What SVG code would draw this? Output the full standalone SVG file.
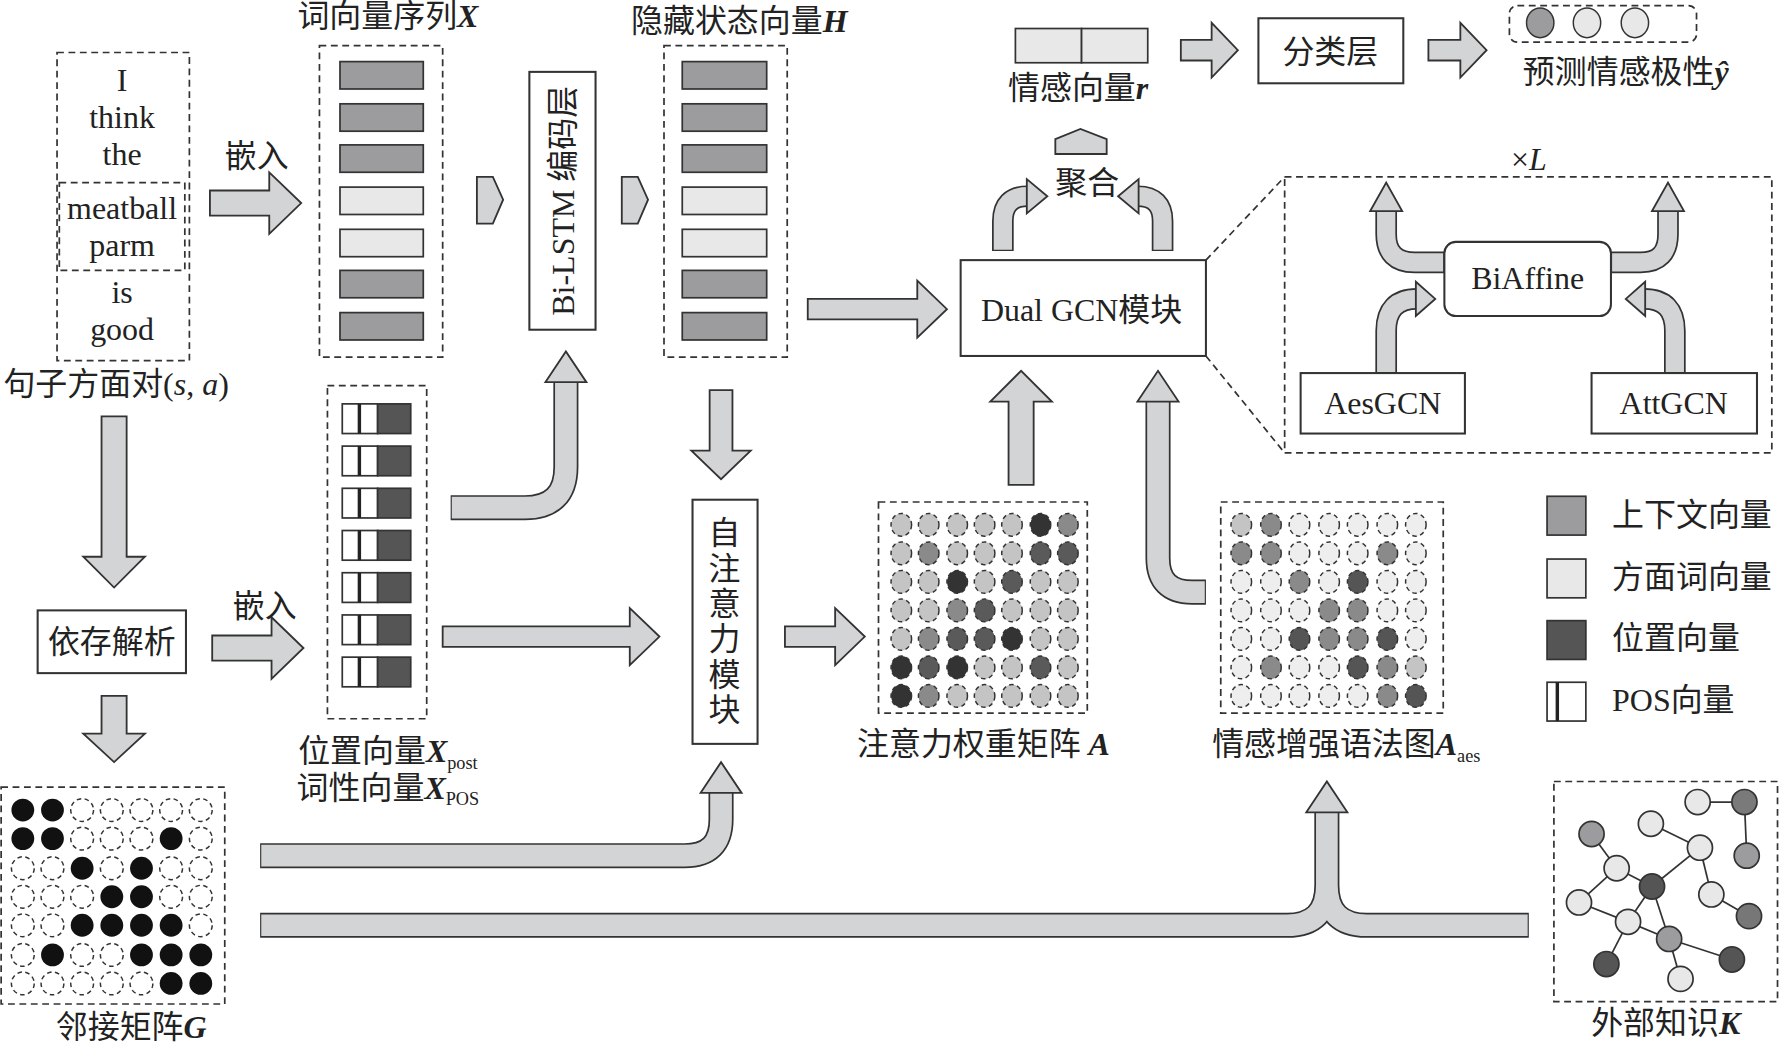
<svg xmlns="http://www.w3.org/2000/svg" width="1789" height="1043" viewBox="0 0 1789 1043">
<style>
text{font-family:"Liberation Serif","Noto Sans CJK SC",serif;font-size:28px;fill:#222}
.c{text-anchor:middle}
.b{font-weight:bold;font-style:italic}
.i{font-style:italic}
.dash{fill:none;stroke:#333;stroke-width:1.5;stroke-dasharray:6 4}
.box{fill:#fff;stroke:#333;stroke-width:1.8}
.ar{fill:#d2d4d5;stroke:#333;stroke-width:1.6;stroke-linejoin:miter}
.so{fill:none;stroke:#333}
.si{fill:none;stroke:#d2d4d5}
.vc{fill:#9c9c9e;stroke:#333;stroke-width:1.5}
.va{fill:#e8e8e8;stroke:#333;stroke-width:1.5}
.dot{stroke:#333;stroke-width:1.3;stroke-dasharray:4 3}
.ln{stroke:#333;stroke-width:1.5}
</style>
<defs>
<g id="posrow"><rect x="300" y="0" width="31" height="26" fill="#fff" stroke="#333" stroke-width="1.5"/><line x1="315" y1="0" x2="315" y2="26" stroke="#222" stroke-width="3"/><rect x="331" y="0" width="29" height="26" fill="#555" stroke="#333" stroke-width="1.5"/></g>
</defs>
<rect width="1789" height="1043" fill="#fff"/>
<g transform="scale(1.1409)">
<g id="connectors">
<path class="ar" d="M184,167H236V151L264,178L236,205V189H184Z"/>
<path class="ar" d="M186,557H238V541L266,568L238,595V579H186Z"/>
<path class="ar" d="M708,262H804V246L830,271L804,296V280H708Z"/>
<path class="ar" d="M388,549H552V533L578,558L552,583V567H388Z"/>
<path class="ar" d="M688,549H732V533L758,558L732,583V567H688Z"/>
<path class="ar" d="M1035,35H1062V20L1085,44L1062,68V53H1035Z"/>
<path class="ar" d="M1252,35H1280V20L1303,44L1280,68V53H1252Z"/>
<path class="ar" d="M89,365V488H73L100,515L127,488H111V365Z"/>
<path class="ar" d="M89,610V643H73L100,668L127,643H111V610Z"/>
<path class="ar" d="M622,342V395H606L632,420L658,395H642V342Z"/>
<path class="ar" d="M884,425V352H868L895,325L922,352H906V425Z"/>
<path class="ar" d="M418,155H432L441,175L432,196H418Z"/>
<path class="ar" d="M545,155H559L568,175L559,196H545Z"/>
<path class="ar" d="M925,135V122L947,113L970,122V135Z"/>
<g stroke-width="22"><path class="so" d="M395,445H460Q496,445 496,409V334"/><path class="so" d="M228,750H600Q632,750 632,718V694"/><path class="so" d="M228,811H1128Q1163,811 1163,776V711M1340,811H1198Q1163,811 1163,776"/><path class="so" d="M1057,519H1045Q1015,519 1015,489V351"/></g>
<g stroke-width="19"><path class="si" d="M396,445H460Q496,445 496,409V334"/><path class="si" d="M229,750H600Q632,750 632,718V694"/><path class="si" d="M229,811H1128Q1163,811 1163,776V711M1339,811H1198Q1163,811 1163,776"/><path class="si" d="M1056,519H1045Q1015,519 1015,489V351"/></g>
<path class="ar" d="M478,335L496,308L514,335Z"/>
<path class="ar" d="M614,695L632,668L650,695Z"/>
<path class="ar" d="M1145,712L1163,685L1181,712Z"/>
<path class="ar" d="M997,352L1015,325L1033,352Z"/>
<g stroke-width="19"><path class="so" d="M879,220V194Q879,172 901,172"/><path class="so" d="M1019,220V194Q1019,172 997,172"/><path class="so" d="M1215,327V290Q1215,262 1242,262"/><path class="so" d="M1468,327V290Q1468,262 1441,262"/><path class="so" d="M1266,230H1240Q1215,230 1215,205V184"/><path class="so" d="M1412,230H1438Q1462,230 1462,205V184"/></g>
<g stroke-width="16"><path class="si" d="M879,219V194Q879,172 901,172"/><path class="si" d="M1019,219V194Q1019,172 997,172"/><path class="si" d="M1215,326V290Q1215,262 1242,262"/><path class="si" d="M1468,326V290Q1468,262 1441,262"/><path class="si" d="M1265,230H1240Q1215,230 1215,205V184"/><path class="si" d="M1413,230H1438Q1462,230 1462,205V184"/></g>
<path class="ar" d="M900,157L918,172L900,187Z"/>
<path class="ar" d="M998,157L980,172L998,187Z"/>
<path class="ar" d="M1241,247L1258,262L1241,277Z"/>
<path class="ar" d="M1442,247L1425,262L1442,277Z"/>
<path class="ar" d="M1201,185L1215,160L1229,185Z"/>
<path class="ar" d="M1448,185L1462,160L1476,185Z"/>
<path class="dash" d="M1057,228L1126,155M1057,312L1126,397"/>
</g>
<g id="sentence">
<rect class="dash" x="50" y="46" width="116" height="270"/>
<rect class="dash" x="52" y="160" width="110" height="77"/>
<text class="c" x="107" y="80">I</text><text class="c" x="107" y="112">think</text><text class="c" x="107" y="145">the</text>
<text class="c" x="107" y="192">meatball</text><text class="c" x="107" y="224">parm</text><text class="c" x="107" y="266">is</text><text class="c" x="107" y="298">good</text>
<text x="3" y="346">句子方面对(<tspan class="i">s</tspan>, <tspan class="i">a</tspan>)</text>
<text class="c" x="225" y="146">嵌入</text>
</g>
<g id="wordvec">
<text class="c" x="340" y="24">词向量序列<tspan class="b">X</tspan></text>
<rect class="dash" x="280" y="40" width="108" height="273"/>
<rect class="vc" x="298" y="54" width="73" height="24"/><rect class="vc" x="298" y="91" width="73" height="24"/><rect class="vc" x="298" y="127" width="73" height="24"/><rect class="va" x="298" y="164" width="73" height="24"/><rect class="va" x="298" y="201" width="73" height="24"/><rect class="vc" x="298" y="237" width="73" height="24"/><rect class="vc" x="298" y="274" width="73" height="24"/>
</g>
<g id="bilstm"><rect class="box" x="464" y="63" width="58" height="226"/><text class="c" transform="translate(503,176) rotate(-90)" font-size="27">Bi-LSTM 编码层</text></g>
<g id="hidden">
<text class="c" x="648" y="28">隐藏状态向量<tspan class="b">H</tspan></text>
<rect class="dash" x="582" y="40" width="108" height="273"/>
<rect class="vc" x="598" y="54" width="74" height="24"/><rect class="vc" x="598" y="91" width="74" height="24"/><rect class="vc" x="598" y="127" width="74" height="24"/><rect class="va" x="598" y="164" width="74" height="24"/><rect class="va" x="598" y="201" width="74" height="24"/><rect class="vc" x="598" y="237" width="74" height="24"/><rect class="vc" x="598" y="274" width="74" height="24"/>
</g>
<g id="dualgcn"><rect class="box" x="842" y="228" width="215" height="84"/><text class="c" x="948" y="281">Dual GCN模块</text><text class="c" x="953" y="170">聚合</text></g>
<g id="sentvec"><rect class="va" x="890" y="25" width="58" height="30"/><rect class="va" x="948" y="25" width="58" height="30"/><text class="c" x="945" y="87">情感向量<tspan class="b">r</tspan></text></g>
<g id="classify"><rect class="box" x="1103" y="16" width="127" height="57"/><text class="c" x="1166" y="55">分类层</text></g>
<g id="predict"><rect class="dash" x="1323" y="5" width="164" height="32" rx="7"/>
<ellipse cx="1350" cy="20" rx="12" ry="13" fill="#9c9c9e" stroke="#333" stroke-width="1.3"/><ellipse cx="1391" cy="20" rx="12" ry="13" fill="#e8e8e8" stroke="#333" stroke-width="1.3"/><ellipse cx="1433" cy="20" rx="12" ry="13" fill="#e8e8e8" stroke="#333" stroke-width="1.3"/>
<text class="c" x="1425" y="73">预测情感极性<tspan class="b">ŷ</tspan></text></g>
<g id="layer"><text class="c" x="1340" y="149"><tspan>×</tspan><tspan class="i">L</tspan></text><rect class="dash" x="1126" y="155" width="427" height="242"/></g>
<g id="biaffine"><rect class="box" x="1266" y="212" width="146" height="65" rx="10"/><text class="c" x="1339" y="253">BiAffine</text></g>
<g id="aesgcn"><rect class="box" x="1140" y="327" width="144" height="53"/><text class="c" x="1212" y="363">AesGCN</text></g>
<g id="attgcn"><rect class="box" x="1395" y="327" width="145" height="53"/><text class="c" x="1467" y="363">AttGCN</text></g>
<g id="posvec">
<rect class="dash" x="287" y="338" width="87" height="292"/>
<use href="#posrow" y="354"/><use href="#posrow" y="391"/><use href="#posrow" y="428"/><use href="#posrow" y="465"/><use href="#posrow" y="502"/><use href="#posrow" y="539"/><use href="#posrow" y="576"/>
<text class="c" x="340" y="668">位置向量<tspan class="b">X</tspan><tspan font-size="16" dy="6">post</tspan></text>
<text class="c" x="340" y="700">词性向量<tspan class="b">X</tspan><tspan font-size="16" dy="6">POS</tspan></text>
</g>
<g id="selfattn"><rect class="box" x="607" y="438" width="57" height="214"/>
<text class="c" x="635" y="477">自</text><text class="c" x="635" y="508">注</text><text class="c" x="635" y="539">意</text><text class="c" x="635" y="570">力</text><text class="c" x="635" y="601">模</text><text class="c" x="635" y="632">块</text></g>
<g id="depparse"><rect class="box" x="33" y="535" width="130" height="55"/><text class="c" x="98" y="572">依存解析</text><text class="c" x="232" y="541">嵌入</text></g>
<g id="attmatrix">
<rect class="dash" x="770" y="440" width="183" height="185"/>
<g class="dot">
<g fill="#c4c4c4"><ellipse cx="790" cy="460" rx="9" ry="10"/><ellipse cx="814" cy="460" rx="9" ry="10"/><ellipse cx="839" cy="460" rx="9" ry="10"/><ellipse cx="863" cy="460" rx="9" ry="10"/><ellipse cx="887" cy="460" rx="9" ry="10"/><ellipse cx="790" cy="485" rx="9" ry="10"/><ellipse cx="839" cy="485" rx="9" ry="10"/><ellipse cx="863" cy="485" rx="9" ry="10"/><ellipse cx="887" cy="485" rx="9" ry="10"/><ellipse cx="790" cy="510" rx="9" ry="10"/><ellipse cx="814" cy="510" rx="9" ry="10"/><ellipse cx="863" cy="510" rx="9" ry="10"/><ellipse cx="912" cy="510" rx="9" ry="10"/><ellipse cx="936" cy="510" rx="9" ry="10"/><ellipse cx="790" cy="535" rx="9" ry="10"/><ellipse cx="814" cy="535" rx="9" ry="10"/><ellipse cx="887" cy="535" rx="9" ry="10"/><ellipse cx="912" cy="535" rx="9" ry="10"/><ellipse cx="936" cy="535" rx="9" ry="10"/><ellipse cx="790" cy="560" rx="9" ry="10"/><ellipse cx="912" cy="560" rx="9" ry="10"/><ellipse cx="936" cy="560" rx="9" ry="10"/><ellipse cx="863" cy="585" rx="9" ry="10"/><ellipse cx="887" cy="585" rx="9" ry="10"/><ellipse cx="936" cy="585" rx="9" ry="10"/><ellipse cx="839" cy="610" rx="9" ry="10"/><ellipse cx="863" cy="610" rx="9" ry="10"/><ellipse cx="887" cy="610" rx="9" ry="10"/><ellipse cx="912" cy="610" rx="9" ry="10"/><ellipse cx="936" cy="610" rx="9" ry="10"/></g>
<g fill="#8a8a8a"><ellipse cx="936" cy="460" rx="9" ry="10"/><ellipse cx="814" cy="485" rx="9" ry="10"/><ellipse cx="839" cy="535" rx="9" ry="10"/><ellipse cx="814" cy="560" rx="9" ry="10"/><ellipse cx="814" cy="610" rx="9" ry="10"/></g>
<g fill="#5a5a5a"><ellipse cx="912" cy="485" rx="9" ry="10"/><ellipse cx="936" cy="485" rx="9" ry="10"/><ellipse cx="887" cy="510" rx="9" ry="10"/><ellipse cx="863" cy="535" rx="9" ry="10"/><ellipse cx="839" cy="560" rx="9" ry="10"/><ellipse cx="863" cy="560" rx="9" ry="10"/><ellipse cx="814" cy="585" rx="9" ry="10"/><ellipse cx="912" cy="585" rx="9" ry="10"/></g>
<g fill="#333"><ellipse cx="912" cy="460" rx="9" ry="10"/><ellipse cx="839" cy="510" rx="9" ry="10"/><ellipse cx="887" cy="560" rx="9" ry="10"/><ellipse cx="790" cy="585" rx="9" ry="10"/><ellipse cx="839" cy="585" rx="9" ry="10"/><ellipse cx="790" cy="610" rx="9" ry="10"/></g>
</g>
<text class="c" x="862" y="662">注意力权重矩阵 <tspan class="b">A</tspan></text>
</g>
<g id="aesmatrix">
<rect class="dash" x="1070" y="440" width="195" height="185"/>
<g class="dot">
<g fill="#eeeeee"><ellipse cx="1139" cy="460" rx="9" ry="10"/><ellipse cx="1165" cy="460" rx="9" ry="10"/><ellipse cx="1190" cy="460" rx="9" ry="10"/><ellipse cx="1216" cy="460" rx="9" ry="10"/><ellipse cx="1241" cy="460" rx="9" ry="10"/><ellipse cx="1139" cy="485" rx="9" ry="10"/><ellipse cx="1165" cy="485" rx="9" ry="10"/><ellipse cx="1190" cy="485" rx="9" ry="10"/><ellipse cx="1241" cy="485" rx="9" ry="10"/><ellipse cx="1088" cy="510" rx="9" ry="10"/><ellipse cx="1114" cy="510" rx="9" ry="10"/><ellipse cx="1165" cy="510" rx="9" ry="10"/><ellipse cx="1216" cy="510" rx="9" ry="10"/><ellipse cx="1241" cy="510" rx="9" ry="10"/><ellipse cx="1088" cy="535" rx="9" ry="10"/><ellipse cx="1114" cy="535" rx="9" ry="10"/><ellipse cx="1139" cy="535" rx="9" ry="10"/><ellipse cx="1216" cy="535" rx="9" ry="10"/><ellipse cx="1241" cy="535" rx="9" ry="10"/><ellipse cx="1088" cy="560" rx="9" ry="10"/><ellipse cx="1114" cy="560" rx="9" ry="10"/><ellipse cx="1241" cy="560" rx="9" ry="10"/><ellipse cx="1088" cy="585" rx="9" ry="10"/><ellipse cx="1139" cy="585" rx="9" ry="10"/><ellipse cx="1165" cy="585" rx="9" ry="10"/><ellipse cx="1088" cy="610" rx="9" ry="10"/><ellipse cx="1114" cy="610" rx="9" ry="10"/><ellipse cx="1139" cy="610" rx="9" ry="10"/><ellipse cx="1165" cy="610" rx="9" ry="10"/><ellipse cx="1190" cy="610" rx="9" ry="10"/></g>
<g fill="#c4c4c4"><ellipse cx="1088" cy="460" rx="9" ry="10"/><ellipse cx="1241" cy="585" rx="9" ry="10"/></g>
<g fill="#8a8a8a"><ellipse cx="1114" cy="460" rx="9" ry="10"/><ellipse cx="1088" cy="485" rx="9" ry="10"/><ellipse cx="1114" cy="485" rx="9" ry="10"/><ellipse cx="1216" cy="485" rx="9" ry="10"/><ellipse cx="1139" cy="510" rx="9" ry="10"/><ellipse cx="1165" cy="535" rx="9" ry="10"/><ellipse cx="1190" cy="535" rx="9" ry="10"/><ellipse cx="1165" cy="560" rx="9" ry="10"/><ellipse cx="1190" cy="560" rx="9" ry="10"/><ellipse cx="1114" cy="585" rx="9" ry="10"/><ellipse cx="1216" cy="585" rx="9" ry="10"/><ellipse cx="1216" cy="610" rx="9" ry="10"/></g>
<g fill="#555"><ellipse cx="1190" cy="510" rx="9" ry="10"/><ellipse cx="1139" cy="560" rx="9" ry="10"/><ellipse cx="1216" cy="560" rx="9" ry="10"/><ellipse cx="1190" cy="585" rx="9" ry="10"/><ellipse cx="1241" cy="610" rx="9" ry="10"/></g>
</g>
<text class="c" x="1180" y="662">情感增强语法图<tspan class="b">A</tspan><tspan font-size="16" dy="6">aes</tspan></text>
</g>
<g id="adjmatrix">
<rect class="dash" x="1" y="690" width="196" height="190"/>
<g class="dot" fill="#fff">
<circle cx="72" cy="710" r="10"/><circle cx="98" cy="710" r="10"/><circle cx="124" cy="710" r="10"/><circle cx="150" cy="710" r="10"/><circle cx="176" cy="710" r="10"/>
<circle cx="72" cy="735" r="10"/><circle cx="98" cy="735" r="10"/><circle cx="124" cy="735" r="10"/><circle cx="176" cy="735" r="10"/>
<circle cx="20" cy="761" r="10"/><circle cx="46" cy="761" r="10"/><circle cx="98" cy="761" r="10"/><circle cx="150" cy="761" r="10"/><circle cx="176" cy="761" r="10"/>
<circle cx="20" cy="786" r="10"/><circle cx="46" cy="786" r="10"/><circle cx="72" cy="786" r="10"/><circle cx="150" cy="786" r="10"/><circle cx="176" cy="786" r="10"/>
<circle cx="20" cy="811" r="10"/><circle cx="46" cy="811" r="10"/><circle cx="176" cy="811" r="10"/>
<circle cx="20" cy="837" r="10"/><circle cx="72" cy="837" r="10"/><circle cx="98" cy="837" r="10"/>
<circle cx="20" cy="862" r="10"/><circle cx="46" cy="862" r="10"/><circle cx="72" cy="862" r="10"/><circle cx="98" cy="862" r="10"/><circle cx="124" cy="862" r="10"/>
</g>
<g fill="#111">
<circle cx="20" cy="710" r="10"/><circle cx="46" cy="710" r="10"/><circle cx="20" cy="735" r="10"/><circle cx="46" cy="735" r="10"/><circle cx="150" cy="735" r="10"/>
<circle cx="72" cy="761" r="10"/><circle cx="124" cy="761" r="10"/><circle cx="98" cy="786" r="10"/><circle cx="124" cy="786" r="10"/>
<circle cx="72" cy="811" r="10"/><circle cx="98" cy="811" r="10"/><circle cx="124" cy="811" r="10"/><circle cx="150" cy="811" r="10"/>
<circle cx="46" cy="837" r="10"/><circle cx="124" cy="837" r="10"/><circle cx="150" cy="837" r="10"/><circle cx="176" cy="837" r="10"/>
<circle cx="150" cy="862" r="10"/><circle cx="176" cy="862" r="10"/>
</g>
<text class="c" x="115" y="910">邻接矩阵<tspan class="b">G</tspan></text>
</g>
<g id="legend">
<rect x="1356" y="435" width="34" height="34" fill="#9c9c9e" stroke="#333" stroke-width="1.5"/><text x="1413" y="461">上下文向量</text>
<rect x="1356" y="490" width="34" height="34" fill="#e8e8e8" stroke="#333" stroke-width="1.5"/><text x="1413" y="515">方面词向量</text>
<rect x="1356" y="544" width="34" height="34" fill="#555" stroke="#333" stroke-width="1.5"/><text x="1413" y="569">位置向量</text>
<rect x="1356" y="598" width="34" height="34" fill="#fff" stroke="#333" stroke-width="1.5"/><line x1="1365" y1="598" x2="1365" y2="632" stroke="#222" stroke-width="3"/><text x="1413" y="623">POS向量</text>
</g>
<g id="knowledge">
<rect class="dash" x="1362" y="685" width="196" height="193"/>
<g class="ln">
<line x1="1488" y1="703" x2="1529" y2="703"/><line x1="1529" y1="703" x2="1531" y2="750"/><line x1="1395" y1="731" x2="1417" y2="761"/><line x1="1447" y1="722" x2="1490" y2="743"/><line x1="1490" y1="743" x2="1448" y2="777"/><line x1="1490" y1="743" x2="1500" y2="784"/><line x1="1417" y1="761" x2="1448" y2="777"/><line x1="1448" y1="777" x2="1427" y2="808"/><line x1="1448" y1="777" x2="1463" y2="823"/><line x1="1384" y1="791" x2="1417" y2="761"/><line x1="1384" y1="791" x2="1427" y2="808"/><line x1="1427" y1="808" x2="1408" y2="845"/><line x1="1427" y1="808" x2="1463" y2="823"/><line x1="1463" y1="823" x2="1518" y2="841"/><line x1="1463" y1="823" x2="1473" y2="858"/><line x1="1500" y1="784" x2="1533" y2="803"/>
</g>
<g stroke="#333" stroke-width="1.5">
<circle cx="1488" cy="703" r="11" fill="#e8e8e8"/><circle cx="1529" cy="703" r="11" fill="#7a7a7a"/><circle cx="1395" cy="731" r="11" fill="#9c9c9e"/><circle cx="1447" cy="722" r="11" fill="#e8e8e8"/><circle cx="1490" cy="743" r="11" fill="#e8e8e8"/><circle cx="1531" cy="750" r="11" fill="#9c9c9e"/><circle cx="1417" cy="761" r="11" fill="#e8e8e8"/><circle cx="1448" cy="777" r="11" fill="#555"/><circle cx="1500" cy="784" r="11" fill="#e8e8e8"/><circle cx="1384" cy="791" r="11" fill="#e8e8e8"/><circle cx="1427" cy="808" r="11" fill="#e8e8e8"/><circle cx="1533" cy="803" r="11" fill="#777"/><circle cx="1463" cy="823" r="11" fill="#9c9c9e"/><circle cx="1408" cy="845" r="11" fill="#555"/><circle cx="1518" cy="841" r="11" fill="#555"/><circle cx="1473" cy="858" r="11" fill="#e8e8e8"/>
</g>
<text class="c" x="1460" y="906">外部知识<tspan class="b">K</tspan></text>
</g>
</g>
</svg>
